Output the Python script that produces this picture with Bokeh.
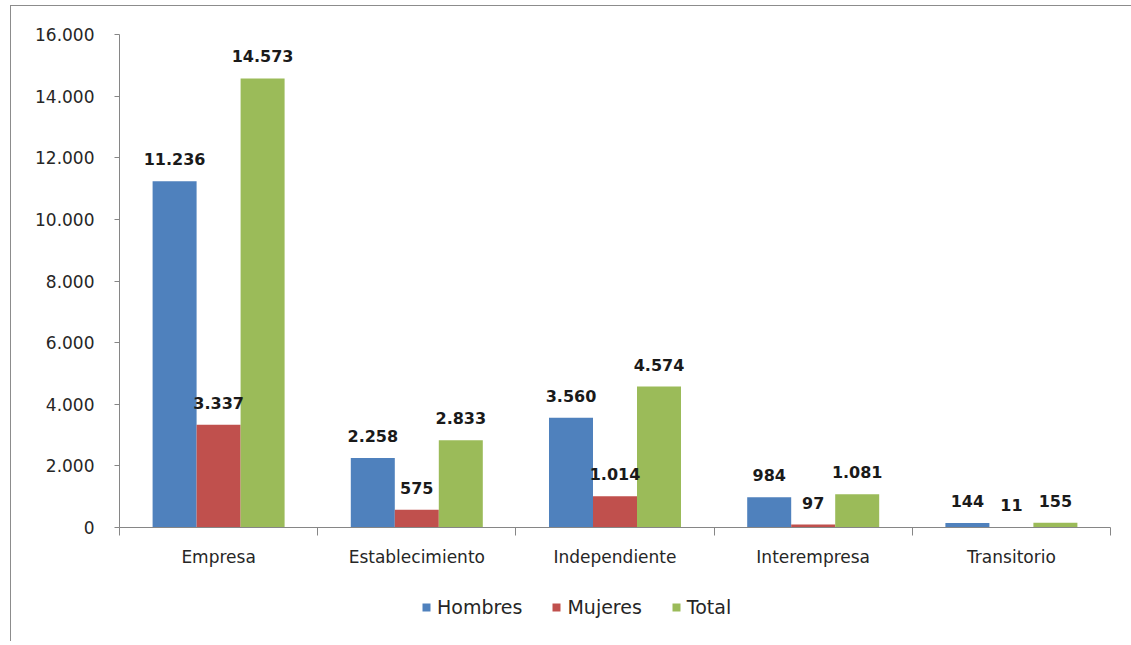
from bokeh.plotting import figure
from bokeh.layouts import column
from bokeh.models import Range1d, FixedTicker, ColumnDataSource, Legend, LegendItem
from bokeh.transform import dodge
from bokeh.core.properties import value
from bokeh.embed import file_html
from bokeh.resources import INLINE

categories = ["Empresa", "Establecimiento", "Independiente", "Interempresa", "Transitorio"]
hombres = [11236, 2258, 3560, 984, 144]
mujeres = [3337, 575, 1014, 97, 11]
total = [14573, 2833, 4574, 1081, 155]
series_names = ["Hombres", "Mujeres", "Total"]
colors = ["#4F81BD", "#C0504D", "#9BBB59"]
y_ticks = [0, 2000, 4000, 6000, 8000, 10000, 12000, 14000, 16000]
y_tick_labels = ["0", "2.000", "4.000", "6.000", "8.000", "10.000", "12.000", "14.000", "16.000"]

FONT = "DejaVu Sans"
centers = [i + 0.5 for i in range(len(categories))]
boundaries = [float(i) for i in range(len(categories) + 1)]


def fmt(v):
    return f"{v:,}".replace(",", ".")


p = figure(frame_width=990, frame_height=492, x_range=Range1d(0, len(categories)),
           y_range=Range1d(0, 16000), output_backend="svg", toolbar_location=None,
           min_border_left=108, min_border_right=23, min_border_top=28,
           min_border_bottom=50)
p.styles = {"border-left": "1px solid #8c8c8c", "border-top": "1px solid #8c8c8c"}
p.outline_line_color = None
p.xgrid.grid_line_color = None
p.ygrid.grid_line_color = None
p.background_fill_color = "white"
p.border_fill_color = "white"

bw = 0.222
offsets = [-bw, 0.0, bw]
series = [hombres, mujeres, total]
sources = []
for name, vals, col, off in zip(series_names, series, colors, offsets):
    src = ColumnDataSource(dict(x=centers, top=vals, lab=[fmt(v) for v in vals]))
    sources.append(src)
    p.vbar(x=dodge("x", off, range=p.x_range), top="top", width=bw, bottom=0,
           source=src, fill_color=col, line_color=None)

for src, off in zip(sources, offsets):
    p.text(x=dodge("x", off, range=p.x_range), y="top", text="lab", source=src,
           text_align="center", text_baseline="alphabetic", y_offset=-22,
           text_font=value(FONT), text_font_style="bold", text_font_size="16px",
           text_color="#1a1a1a")

# Y axis
ya = p.yaxis[0]
ya.ticker = FixedTicker(ticks=y_ticks, minor_ticks=[])
ya.major_label_overrides = {t: l for t, l in zip(y_ticks, y_tick_labels)}
ya.axis_line_color = "#868686"
ya.major_tick_line_color = "#868686"
ya.major_tick_out = 5
ya.major_tick_in = 0
ya.minor_tick_line_color = None
ya.major_label_standoff = 20
ya.major_label_text_font = FONT
ya.major_label_text_font_size = "17px"
ya.major_label_text_color = "#262626"

# X axis
xa = p.xaxis[0]
xa.ticker = FixedTicker(ticks=centers, minor_ticks=boundaries)
xa.major_label_overrides = {c: n for c, n in zip(centers, categories)}
xa.axis_line_color = "#868686"
xa.major_tick_line_color = None
xa.major_tick_out = 0
xa.major_tick_in = 0
xa.minor_tick_line_color = "#868686"
xa.minor_tick_out = 8
xa.minor_tick_in = 0
xa.major_label_standoff = 11
xa.major_label_text_font = FONT
xa.major_label_text_font_size = "17px"
xa.major_label_text_color = "#262626"

# Legend strip (separate figure below the chart); its renderers are hidden
lf = figure(frame_width=990, frame_height=65, x_range=Range1d(0, 1),
            y_range=Range1d(0, 1), output_backend="svg", toolbar_location=None,
            x_axis_location=None, y_axis_location=None,
            min_border_left=108, min_border_right=23, min_border_top=0,
            min_border_bottom=0)
lf.styles = {"border-left": "1px solid #8c8c8c"}
lf.grid.visible = False
lf.outline_line_color = None
lf.border_fill_color = "white"
lf.background_fill_color = "white"
items = []
for name, src, col in zip(series_names, sources, colors):
    r = lf.vbar(x="x", top="top", width=bw, bottom=0, source=src,
                fill_color=col, line_color=None)
    r.visible = False
    items.append(LegendItem(label=name, renderers=[r]))

legend = Legend(items=items, orientation="horizontal", location=(302, 23),
                glyph_width=10, glyph_height=10, label_standoff=6, spacing=29,
                padding=0, margin=0, label_height=20,
                label_text_font=FONT, label_text_font_size="19px",
                label_text_color="#262626", border_line_color=None,
                background_fill_alpha=0, inactive_fill_alpha=0)
lf.add_layout(legend, "center")

layout = column(p, lf, spacing=0,
                styles={"margin-left": "10px", "margin-top": "5px"})

open("out.html", "w").write(file_html(layout, INLINE))
